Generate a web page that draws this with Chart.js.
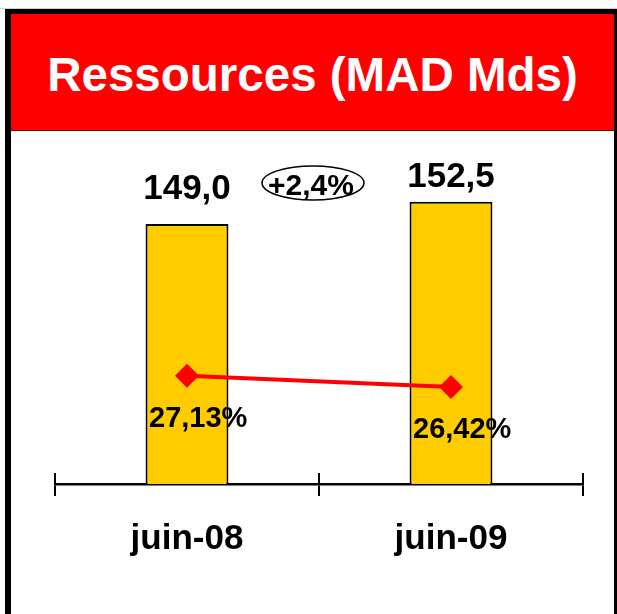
<!DOCTYPE html>
<html>
<head>
<meta charset="utf-8">
<script src="https://cdn.jsdelivr.net/npm/chart.js@4/dist/chart.umd.min.js"></script>
<style>
  html, body { margin: 0; padding: 0; background: #fff; overflow: hidden; }
  body { width: 617px; height: 614px; position: relative; font-family: "Liberation Sans", Arial, sans-serif; }
  #topline { position: absolute; left: 0; top: 8px; width: 617px; height: 1px; background: #cfcfcf; }
  #frame { position: absolute; left: 5px; top: 9px; width: 603px; height: 640px;
           border: 6px solid #000; border-top-width: 5px; border-bottom: none; }
  #header { position: absolute; left: 11px; top: 14px; width: 603px; height: 116px;
            background: #ff0000; border-bottom: 1px solid #6a0000;
            color: #fff; font-weight: bold; font-size: 47.5px; text-align: center;
            line-height: 116px; }
  #myChart { position: absolute; left: 0; top: 0; }
</style>
</head>
<body>
<div id="topline"></div>
<div id="frame"></div>
<div id="header"><span style="position:relative; top:3px">Ressources (MAD Mds)</span></div>
<canvas id="myChart" width="617" height="614"></canvas>
<script>
"use strict";

// data
const labels = ['juin-08', 'juin-09'];
const ressources = [149.0, 152.5];
const partMarche = [27.13, 26.42];
const growthLabel = '+2,4%';

const fontFamily = '"Liberation Sans", Arial, sans-serif';
const fmt = (v, d) => v.toFixed(d).replace('.', ',');

// value labels, percentage labels, growth bubble and crossing ticks
const chartLabels = {
  id: 'chartLabels',
  afterDatasetsDraw(chart) {
    const ctx = chart.ctx;
    const bars = chart.getDatasetMeta(1).data;
    const points = chart.getDatasetMeta(0).data;
    const offsets = [25, 15];
    ctx.save();
    ctx.fillStyle = '#000';

    // bar values
    ctx.font = `bold 35px ${fontFamily}`;
    ctx.textAlign = 'center';
    ctx.textBaseline = 'alphabetic';
    bars.forEach((bar, i) => {
      ctx.fillText(fmt(ressources[i], 1), bar.x, bar.y - offsets[i]);
    });

    // line values
    ctx.font = `bold 29px ${fontFamily}`;
    ctx.textAlign = 'left';
    points.forEach((pt, i) => {
      ctx.fillText(fmt(partMarche[i], 2) + '%', pt.x - 38, pt.y + 51);
    });

    // growth
    const gx = (bars[0].x + bars[1].x) / 2 - 6;
    const gy = bars[0].y - 41;
    ctx.beginPath();
    ctx.ellipse(gx, gy, 51, 17, 0, 0, Math.PI * 2);
    ctx.lineWidth = 1.5;
    ctx.strokeStyle = '#000';
    ctx.stroke();
    ctx.font = `bold 30px ${fontFamily}`;
    ctx.textAlign = 'center';
    ctx.fillText(growthLabel, gx - 2, gy + 12);

    // upper half of the x ticks
    const xs = chart.scales.x;
    const n = labels.length;
    ctx.lineWidth = 2;
    for (let i = 0; i <= n; i++) {
      const x = xs.left + i * (xs.width / n);
      ctx.beginPath();
      ctx.moveTo(x, xs.top - 11);
      ctx.lineTo(x, xs.top);
      ctx.stroke();
    }
    ctx.restore();
  }
};

const ctx = document.getElementById('myChart').getContext('2d');

new Chart(ctx, {
  data: {
    labels,
    datasets: [{
      type: 'line',
      data: partMarche,
      yAxisID: 'y2',
      borderColor: '#ff0000',
      borderWidth: 4,
      pointStyle: 'rectRot',
      pointRadius: 12,
      pointBackgroundColor: '#ff0000',
      pointBorderWidth: 0,
      order: 0
    }, {
      type: 'bar',
      data: ressources,
      yAxisID: 'y',
      backgroundColor: '#ffcc00',
      borderColor: '#000',
      borderWidth: 2,
      barPercentage: 0.314,
      categoryPercentage: 1,
      order: 1
    }]
  },
  options: {
    responsive: false,
    animation: false,
    devicePixelRatio: 1,
    layout: { padding: { top: 140, left: 55, right: 34, bottom: 32 } },
    plugins: {
      legend: { display: false },
      tooltip: { enabled: false }
    },
    scales: {
      x: {
        offset: true,
        border: { display: true, color: '#000', width: 2.5 },
        grid: { offset: true, drawOnChartArea: false, drawTicks: true, tickLength: 12, color: '#000', lineWidth: 2 },
        ticks: { color: '#000', padding: 22, font: { family: fontFamily, size: 35, weight: 'bold' } }
      },
      y: { display: false, min: 108.1, max: 162.2 },
      y2: { display: false, min: 20.31, max: 41.98 }
    }
  },
  plugins: [chartLabels]
});
</script>
</body>
</html>
